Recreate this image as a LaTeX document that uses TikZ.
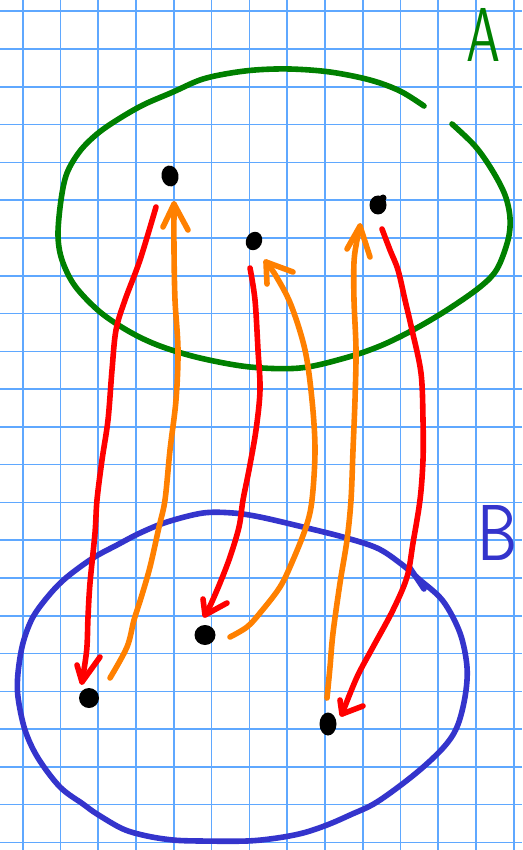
\documentclass[tikz,border=0pt]{standalone}
\usepackage{graphicx}
\usetikzlibrary{shapes.geometric}
\definecolor{gridblue}{RGB}{95,168,255}
\definecolor{setgreen}{RGB}{0,128,0}
\definecolor{setblue}{RGB}{52,52,204}
\definecolor{penred}{RGB}{255,0,0}
\definecolor{penorange}{RGB}{255,128,0}
\tikzset{
  gridline/.style={gridblue, line width=1.6pt},
  pen/.style={line width=5.6pt, line cap=round, line join=round},
  greenline/.style={pen, setgreen},
  blueline/.style={pen, setblue},
  redarrow/.style={pen, penred},
  orangearrow/.style={pen, penorange},
  blob/.style={ellipse, fill=black, draw=none, inner sep=0pt, minimum width=17pt, minimum height=20pt},
  lettera/.style={text=setgreen, inner sep=0pt, font=\sffamily},
  letterb/.style={text=setblue, inner sep=0pt, font=\sffamily}
}
\begin{document}
\begin{tikzpicture}[x=1pt, y=-1pt]
\useasboundingbox (0,0) rectangle (522,850);
\fill[white] (0,0) rectangle (522,850);
% grid paper
\foreach \k in {0,...,13} {\draw[gridline] ({22.7+37.78*\k},0) -- ({22.7+37.78*\k},850);}
\foreach \k in {0,...,22} {\draw[gridline] (0,{11.3+37.78*\k}) -- (522,{11.3+37.78*\k});}

% set A (open green loop)
\draw[greenline] plot[smooth, tension=0.55] coordinates {
 (424,106) (400,91) (370,80) (330,72) (290,69) (255,70) (225,74) (200,80) (173,92)
 (143,105) (117,120) (97,134) (80,151) (67,173) (61,200) (58,235) (62,260) (75,286)
 (100,312) (130,332) (160,346) (200,358) (250,367) (300,368) (345,358) (380,346)
 (413,330) (447,310) (480,287) (497,269) (508,240) (510,218) (505,195) (492,170)
 (475,146) (452,124)};
\node[lettera] (labA) at (483,34.5) {\resizebox{34pt}{53pt}{A}};

% set B (blue loop)
\draw[blueline] plot[smooth cycle, tension=0.55] coordinates {
 (260,517) (303,527) (343,537) (377,548) (400,563) (420,580) (443,601) (460,633)
 (467,667) (465,697) (457,727) (443,748) (415,774) (377,802) (350,815) (327,825)
 (303,833) (277,838) (247,841) (200,841) (173,840) (147,836) (123,829) (97,814)
 (83,804) (60,787) (38,758) (25,730) (18,697) (18,673) (23,643) (33,617) (50,594)
 (67,577) (93,558) (117,545) (140,533) (167,522) (203,513) (233,513)};
\draw[blueline] (410,568) -- (424,589);
\node[letterb] (labB) at (497,532.5) {\resizebox{40pt}{55pt}{B}};

% elements
\node[blob, minimum width=17pt, minimum height=21pt, rotate=10] (a1) at (170,176) {};
\node[blob, minimum width=16pt, minimum height=19pt, rotate=-25] (a2) at (254,241) {};
\node[blob, minimum width=17pt, minimum height=19pt] (a3) at (378,205) {};
\fill (a3.center) ++(5,-7) circle (3.5pt);
\node[blob, minimum width=20pt, minimum height=20pt] (b1) at (89,698) {};
\node[blob, minimum width=21pt, minimum height=20pt] (b2) at (205,635) {};
\node[blob, minimum width=17pt, minimum height=23pt] (b3) at (328,724) {};

% arrow end coordinates
\coordinate (r1s) at (156,207);  \coordinate (r1e) at (82,682);
\coordinate (r2s) at (250,268);  \coordinate (r2e) at (205,615);
\coordinate (r3s) at (382,229);  \coordinate (r3e) at (342,714);
\coordinate (o1s) at (110,678);  \coordinate (o1e) at (174,204);
\coordinate (o2s) at (230,637);  \coordinate (o2e) at (266,262);
\coordinate (o3s) at (327,698);  \coordinate (o3e) at (360,226);

% red arrows A -> B
\draw[redarrow] plot[smooth, tension=0.55] coordinates {
 (r1s) (140,260) (125,300) (116,330) (112,370) (108,420) (102,460) (97,500) (95,533)
 (90,583) (88,617) (86.7,650) (r1e)};
\draw[redarrow] (77,665) -- (r1e) -- (100,657);

\draw[redarrow] plot[smooth, tension=0.55] coordinates {
 (r2s) (255,300) (258,350) (260,390) (256,430) (249,470) (243,500) (239,527) (230,557)
 (220,583) (210,606) (r2e)};
\draw[redarrow] (203,599) -- (r2e) -- (227,603);

\draw[redarrow] plot[smooth, tension=0.55] coordinates {
 (r3s) (390,250) (398,270) (405,300) (412,330) (421,373) (423,420) (423,460) (420,500)
 (413,543) (407,577) (393,610) (373,647) (357,677) (r3e)};
\draw[redarrow] (340,700) -- (r3e) -- (363,706);

% orange arrows B -> A
\draw[orangearrow] plot[smooth, tension=0.55] coordinates {
 (o1s) (127,647) (134,620) (141,598) (150,567) (159,527) (165,500) (170,450) (176,400)
 (178,350) (175,300) (174,250) (o1e)};
\draw[orangearrow] (163,227) -- (o1e) -- (188,230);

\draw[orangearrow] plot[smooth, tension=0.55] coordinates {
 (o2s) (247,627) (260,613) (280,587) (293,560) (306,527) (312,500) (315,450) (312,400)
 (305,350) (291,305) (276,276) (o2e)};
\draw[orangearrow] (267,284) -- (o2e) -- (293,272);

\draw[orangearrow] plot[smooth, tension=0.55] coordinates {
 (o3s) (330,667) (333,633) (340,583) (347,540) (351,500) (353,450) (355,400) (356,350)
 (354,300) (354,262) (357,240) (o3e)};
\draw[orangearrow] (347,249) -- (o3e) -- (370,257);
\end{tikzpicture}
\end{document}
